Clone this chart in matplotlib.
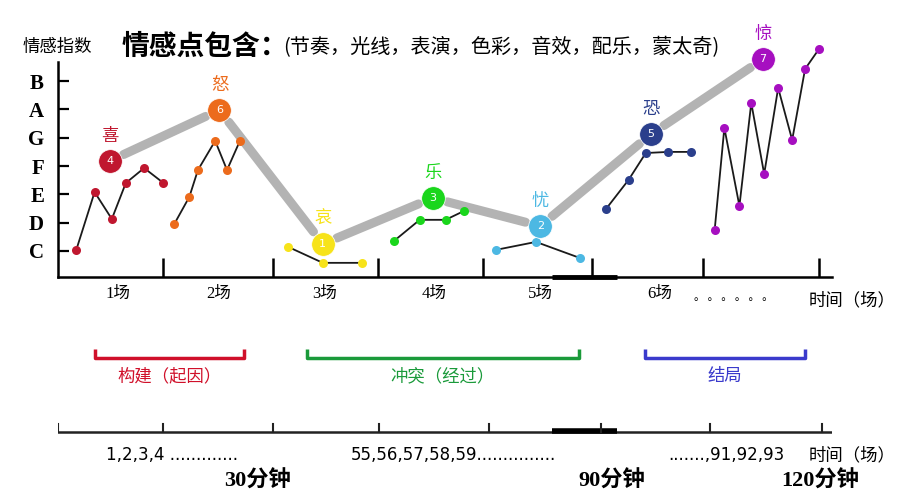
import matplotlib
matplotlib.use("Agg")
from matplotlib import pyplot as plt

plt.rcParams['font.family'] = ['Noto Sans CJK SC', 'DejaVu Sans']

# levels: C=1 ... B=7, x in scene units
level_names = ['C', 'D', 'E', 'F', 'G', 'A', 'B']
scene_bounds = [0.98, 2.0, 2.97, 3.95, 4.96, 5.99, 7.07]
scene_labels = ['1场', '2场', '3场', '4场', '5场', '6场']
scene_label_x = [0.56, 1.49, 2.48, 3.49, 4.48, 5.59]

emotions = ['喜', '怒', '哀', '乐', '忧', '恐', '惊']
colors = ['#c0172f', '#ec6b1c', '#f7e31a', '#1ad61c', '#4cb8e3', '#2b3f8c', '#a60fc0']
emo_nums = [4, 6, 1, 3, 2, 5, 7]
emo_x = [0.48, 1.50, 2.46, 3.48, 4.48, 5.51, 6.55]
emo_y = [4.18, 5.98, 1.25, 2.87, 1.88, 5.13, 7.78]

xi_x = [0.17, 0.34, 0.50, 0.63, 0.80, 0.98]
xi_y = [1.04, 3.08, 2.13, 3.40, 3.93, 3.40]
nu_x = [1.08, 1.22, 1.30, 1.46, 1.57, 1.69]
nu_y = [1.95, 2.91, 3.86, 4.89, 3.86, 4.89]
ai_x = [2.14, 2.46, 2.82]
ai_y = [1.14, 0.58, 0.58]
le_x = [3.12, 3.36, 3.60, 3.77]
le_y = [1.35, 2.10, 2.10, 2.41]
you_x = [4.07, 4.44, 4.85]
you_y = [1.04, 1.32, 0.75]
kong_x = [5.09, 5.30, 5.46, 5.67, 5.88]
kong_y = [2.48, 3.51, 4.46, 4.50, 4.50]
jing_x = [6.10, 6.19, 6.33, 6.44, 6.56, 6.69, 6.82, 6.94, 7.07]
jing_y = [1.74, 5.35, 2.59, 6.23, 3.72, 6.76, 4.92, 7.43, 8.14]
detail_x = [xi_x, nu_x, ai_x, le_x, you_x, kong_x, jing_x]
detail_y = [xi_y, nu_y, ai_y, le_y, you_y, kong_y, jing_y]

# story structure brackets (scene units)
acts = ['构建（起因）', '冲突（经过）', '结局']
act_start = [0.34, 2.31, 5.45]
act_end = [1.73, 4.84, 6.94]
act_colors = ['#d0102a', '#1a9a3a', '#3a3acc']

timeline_ticks = [0.0, 0.98, 2.0, 2.98, 4.0, 5.04, 6.06, 7.1]
timeline_texts = ['1,2,3,4 .............', '55,56,57,58,59...............', '.......,91,92,93']
timeline_text_x = [0.45, 2.72, 5.67]
minute_labels = ['30分钟', '90分钟', '120分钟']
minute_x = [1.85, 5.14, 7.08]

fig = plt.figure(figsize=(9, 5), dpi=100)
ax = fig.add_axes([58 / 900, 223 / 500, 774 / 900, 257 / 500])
ax.set_xlim(0, 7.19)
ax.set_ylim(0.08, 9.16)
for s in ['top', 'right']:
    ax.spines[s].set_visible(False)
ax.spines['left'].set_bounds(0.08, 7.68)
ax.spines['left'].set_linewidth(1.8)
ax.spines['bottom'].set_linewidth(1.8)

ax.set_yticks(range(1, 8))
ax.set_yticklabels(level_names, family='Liberation Serif', fontweight='bold', fontsize=15)
ax.tick_params(axis='y', direction='in', length=8, width=1.6, pad=10)
ax.set_xticks(scene_bounds)
ax.set_xticklabels([])
ax.tick_params(axis='x', direction='in', length=14, width=1.8)
ax.plot([4.59, 5.19], [0.08, 0.08], color='black', lw=3.5, clip_on=False, solid_capstyle='butt')

for lx, lab in zip(scene_label_x, scene_labels):
    ax.text(lx, -0.5, lab, ha='center', va='center', fontsize=12,
            family=['Liberation Serif', 'Noto Sans CJK SC'], clip_on=False)
ax.text(6.28, -0.62, '。 。 。 。 。 。', ha='center', va='center', fontsize=8, clip_on=False)
ax.text(7.38, -0.75, '时间（场）', ha='center', va='center', fontsize=12.5, clip_on=False)

# gray trend path between key emotions
for i in range(len(emo_x) - 1):
    ax.annotate('', xy=(emo_x[i + 1], emo_y[i + 1]), xytext=(emo_x[i], emo_y[i]),
                arrowprops=dict(arrowstyle='-', color='#b3b3b3', lw=6.5,
                                shrinkA=11, shrinkB=11, capstyle='round'))

for xs, ys, c in zip(detail_x, detail_y, colors):
    ax.plot(xs, ys, color='#1a1a1a', lw=1.3, zorder=2, clip_on=False)
    ax.plot(xs, ys, 'o', color=c, ms=6.5, mec='none', zorder=3, clip_on=False)

for x, y, c, n, e in zip(emo_x, emo_y, colors, emo_nums, emotions):
    ax.plot(x, y, 'o', color=c, ms=17, mec='white', mew=0.5, zorder=4, clip_on=False)
    ax.text(x, y, str(n), ha='center', va='center', color='white', fontsize=8,
            family='DejaVu Sans', zorder=5)
    ax.annotate(e, (x, y), xytext=(0, 18), textcoords='offset points',
                ha='center', va='center', color=c, fontsize=12.5)

fig.text(57 / 900, 1 - 47 / 500, '情感指数', ha='center', va='center', fontsize=12.5)
fig.text(122 / 900, 1 - 47 / 500, '情感点包含：', ha='left', va='center',
         fontsize=20, fontweight='bold')
fig.text(283 / 900, 1 - 48 / 500, '(节奏，光线，表演，色彩，音效，配乐，蒙太奇)',
         ha='left', va='center', fontsize=14.5)

# lower part: structure and timeline
ax2 = fig.add_axes([58 / 900, 0, 774 / 900, 180 / 500])
ax2.set_xlim(0, 7.19)
ax2.set_ylim(180, 0)
ax2.axis('off')
for s, e, c, t in zip(act_start, act_end, act_colors, acts):
    ax2.plot([s, s, e, e], [29, 38, 38, 29], color=c, lw=2.5, solid_capstyle='butt')
    ax2.text((s + e) / 2, 56, t, ha='center', va='center', color=c, fontsize=12.5)

ax2.plot([timeline_ticks[0], 7.19], [112, 112], color='#222222', lw=1.8)
ax2.plot([4.59, 5.19], [111, 111], color='black', lw=4, solid_capstyle='butt')
for t in timeline_ticks:
    ax2.plot([t, t], [104, 112], color='#222222', lw=1.5)
for x, t in zip(timeline_text_x, timeline_texts):
    ax2.text(x, 135, t, ha='left', va='center', fontsize=12,
             family='Liberation Sans Narrow')
ax2.text(7.38, 135, '时间（场）', ha='center', va='center', fontsize=12.5)
for x, t in zip(minute_x, minute_labels):
    ax2.text(x, 161, t, ha='center', va='center', fontsize=16, fontweight='bold',
             family=['Liberation Serif', 'Noto Sans CJK SC'])

fig.savefig('out.png', dpi=100)
